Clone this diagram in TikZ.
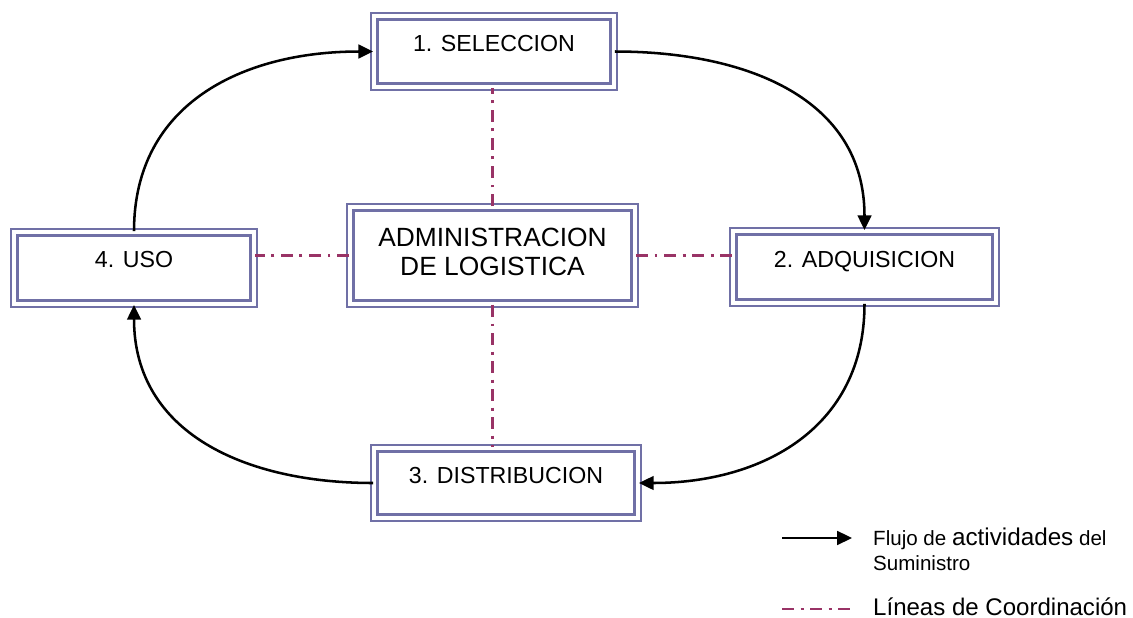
\documentclass[tikz,border=0pt]{standalone}
\usepackage{fontspec}
\setmainfont{Liberation Sans}
\usetikzlibrary{arrows.meta}

\definecolor{boxline}{RGB}{112,112,166}
\definecolor{coordline}{RGB}{153,51,102}

\tikzset{
  framed/.style={draw=boxline, line width=2.3pt, double=white, double distance=3.6pt,
    fill=white, inner sep=0pt},
  stage/.style={framed, font=\fontsize{22}{26}\selectfont, text height=12pt, text depth=12pt},
  flow/.style={line width=2.4pt, -{Triangle[length=14pt,width=13pt]}},
  coordlink/.style={coordline, line width=2.3pt, dash pattern=on 11.4pt off 6.2pt on 2.8pt off 6.2pt},
}

\begin{document}
\begin{tikzpicture}[scale=1]
    \useasboundingbox (0,0) rectangle (37.767,-20.6);
    % Draw the four stages and the centre box
    \node[stage, minimum width=7.98cm, minimum height=2.35cm] (sel) at (16.467,-1.717) {1. SELECCION};
    \node[stage, minimum width=8.75cm, minimum height=2.383cm] (adq) at (28.817,-8.9) {2. ADQUISICION};
    \node[stage, minimum width=8.783cm, minimum height=2.317cm] (dist) at (16.867,-16.1) {3. DISTRIBUCION};
    \node[stage, minimum width=7.983cm, minimum height=2.383cm] (uso) at (4.467,-8.933) {4. USO};
    \node[framed, minimum width=9.483cm, minimum height=3.217cm, align=center, text depth=7.6pt,
      font=\fontsize{25}{27.5}\selectfont] (admin) at (16.417,-8.517) {ADMINISTRACION\\DE LOGISTICA};
    % Coordination lines
    \foreach \a/\b in {north/sel.south, south/dist.north} {
      \draw[coordlink] (admin.\a) -- (admin.\a |- \b);
    }
    \foreach \a/\b in {west/uso.east, east/adq.west} {
      \draw[coordlink] (admin.\a) -- (admin.\a -| \b);
    }
    % Supply flow
    \foreach \a/\b/\o/\i in {uso.north/sel.west/90/180, sel.east/adq.north/0/90,
      adq.south/dist.east/-90/0, dist.west/uso.south/180/-90} {
      \draw[flow] (\a) to[out=\o,in=\i,looseness=1.1] (\b);
    }
    % Legend
    \coordinate (fa) at (26.067,-17.933);
    \coordinate (fb) at (28.4,-17.933);
    \draw[flow] (fa) -- (fb);
    \node[anchor=west, align=left, inner sep=0pt, font=\fontsize{19.5}{23.7}\selectfont] (flowtxt)
      at (29.1,-18.3) {Flujo de {\fontsize{23}{23.7}\selectfont actividades} del\\Suministro};
    \coordinate (ca) at (26.067,-20.3);
    \coordinate (cb) at (28.4,-20.3);
    \draw[coordlink] (ca) -- (cb);
    \node[anchor=base west, inner sep=0pt, font=\fontsize{22.8}{26}\selectfont] (coordtxt)
      at (29.1,-20.5) {Líneas de Coordinación};
  \end{tikzpicture}
\end{document}
